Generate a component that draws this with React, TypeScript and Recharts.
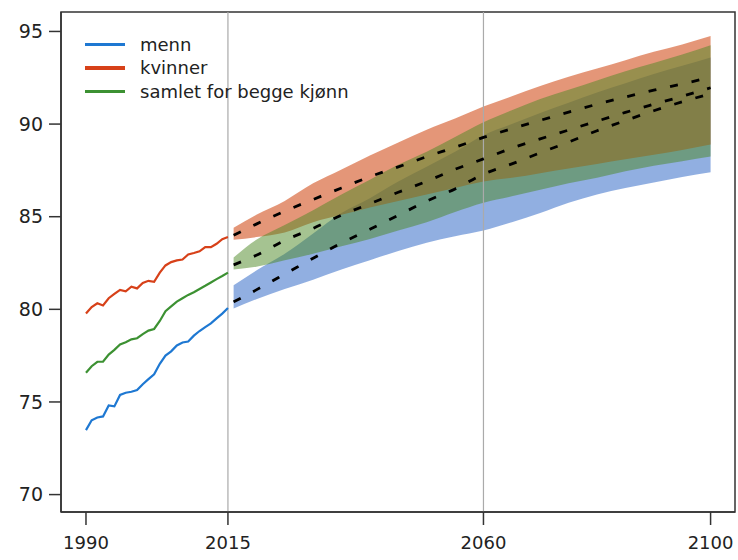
import { Area, ComposedChart, Legend, Line, ReferenceArea, ReferenceLine, XAxis, YAxis } from 'recharts';

// historical life expectancy, 1990-2015
const histYears = [1990, 1991, 1992, 1993, 1994, 1995, 1996, 1997, 1998, 1999, 2000, 2001, 2002, 2003, 2004, 2005, 2006, 2007, 2008, 2009, 2010, 2011, 2012, 2013, 2014, 2015];
const menn = [73.48, 74.01, 74.16, 74.22, 74.81, 74.76, 75.38, 75.5, 75.55, 75.64, 75.96, 76.23, 76.49, 77.06, 77.5, 77.73, 78.05, 78.21, 78.26, 78.58, 78.83, 79.04, 79.24, 79.51, 79.77, 80.07];
const kvinner = [79.77, 80.12, 80.33, 80.21, 80.6, 80.83, 81.05, 80.97, 81.22, 81.13, 81.42, 81.54, 81.49, 81.98, 82.37, 82.55, 82.64, 82.69, 82.96, 83.04, 83.13, 83.36, 83.36, 83.54, 83.79, 83.9];
const samlet = [76.58, 76.93, 77.17, 77.17, 77.56, 77.81, 78.1, 78.22, 78.38, 78.44, 78.66, 78.85, 78.94, 79.37, 79.9, 80.16, 80.42, 80.6, 80.78, 80.92, 81.1, 81.27, 81.45, 81.63, 81.8, 81.98];

// projections 2016-2100: median and interval
const projYears = [2016, 2020, 2025, 2030, 2035, 2040, 2045, 2050, 2055, 2060, 2065, 2070, 2075, 2080, 2085, 2090, 2095, 2100];
const kvinnerMed = [84.0, 84.6, 85.3, 85.93, 86.55, 87.16, 87.69, 88.24, 88.75, 89.28, 89.75, 90.2, 90.65, 91.07, 91.46, 91.83, 92.17, 92.52];
const kvinnerLo = [83.75, 83.9, 84.15, 84.7, 85.1, 85.5, 85.85, 86.2, 86.55, 86.9, 87.1, 87.35, 87.6, 87.85, 88.1, 88.35, 88.6, 88.9];
const kvinnerHi = [84.4, 85.1, 85.85, 86.8, 87.55, 88.3, 89.0, 89.7, 90.3, 90.95, 91.5, 92.05, 92.55, 93.0, 93.45, 93.9, 94.3, 94.75];
const samletMed = [82.4, 82.92, 83.72, 84.37, 85.08, 85.7, 86.32, 86.91, 87.56, 88.12, 88.7, 89.2, 89.68, 90.16, 90.63, 91.07, 91.5, 91.96];
const samletLo = [82.15, 82.3, 82.65, 83.0, 83.4, 83.8, 84.25, 84.7, 85.25, 85.75, 86.1, 86.45, 86.8, 87.1, 87.45, 87.75, 88.0, 88.25];
const samletHi = [82.8, 83.75, 84.55, 85.35, 86.2, 87.0, 87.8, 88.5, 89.3, 90.1, 90.75, 91.35, 91.85, 92.35, 92.85, 93.3, 93.75, 94.25];
const mennMed = [80.4, 81.05, 81.9, 82.76, 83.58, 84.32, 85.08, 85.84, 86.5, 87.3, 87.85, 88.45, 89.03, 89.64, 90.19, 90.72, 91.2, 91.64];
const mennLo = [80.05, 80.55, 81.1, 81.6, 82.15, 82.65, 83.15, 83.6, 83.95, 84.25, 84.7, 85.2, 85.75, 86.2, 86.55, 86.85, 87.15, 87.4];
const mennHi = [81.3, 82.1, 83.0, 84.1, 85.2, 86.0, 86.9, 87.7, 88.5, 89.4, 90.0, 90.6, 91.15, 91.7, 92.2, 92.7, 93.15, 93.6];

const xTicks = [1990, 2015, 2060, 2100];
const yTicks = [70, 75, 80, 85, 90, 95];
const legendLabels = ['menn', 'kvinner', 'samlet for begge kjønn'];

const BLUE = '#1e78d2';
const RED = '#d74119';
const GREEN = '#3c9132';
const FONT = 'DejaVu Sans';

const chartData = [
    ...histYears.map((year, i) => ({ year, menn: menn[i], kvinner: kvinner[i], samlet: samlet[i] })),
    ...projYears.map((year, i) => ({
        year,
        mennBand: [mennLo[i], mennHi[i]],
        kvinnerBand: [kvinnerLo[i], kvinnerHi[i]],
        samletBand: [samletLo[i], samletHi[i]],
        mennMed: mennMed[i],
        kvinnerMed: kvinnerMed[i],
        samletMed: samletMed[i],
    })),
];

const legendColors = [BLUE, RED, GREEN];

function LegendBox() {
    return (
        <div style={{ fontFamily: FONT, fontSize: 18, color: '#222' }}>
            {legendLabels.map((label, i) => (
                <div key={label} style={{ display: 'flex', alignItems: 'center', height: 23.5 }}>
                    <span style={{ display: 'inline-block', width: 40, height: 3.5, background: legendColors[i], marginRight: 15 }} />
                    <span style={{ whiteSpace: 'nowrap' }}>{label}</span>
                </div>
            ))}
        </div>
    );
}

export default function App() {
    const axisStyle = { stroke: '#333', strokeWidth: 1.5 };

    return (
        <>
            <style>{'body{margin:0}'}</style>
            <ComposedChart width={738} height={560} data={chartData} margin={{ top: 12, right: 3, left: 0, bottom: 0 }}>
                <XAxis
                    dataKey="year"
                    type="number"
                    domain={[1985.6, 2104.3]}
                    allowDataOverflow
                    ticks={xTicks}
                    tickSize={13}
                    tickMargin={11}
                    height={48}
                    axisLine={axisStyle}
                    tickLine={axisStyle}
                    tick={{ fontSize: 18, fill: '#222', fontFamily: FONT }}
                />
                <YAxis
                    type="number"
                    domain={[69.06, 96.05]}
                    allowDataOverflow
                    ticks={yTicks}
                    width={61}
                    tickSize={12}
                    tickMargin={6}
                    axisLine={axisStyle}
                    tickLine={axisStyle}
                    tick={{ fontSize: 19, fill: '#222', fontFamily: FONT }}
                />
                <ReferenceArea x1={1985.6} x2={2104.3} y1={69.06} y2={96.05} fill="none" stroke="#333" strokeWidth={1.5} />

                <Area type="monotone" dataKey="mennBand" fill="#487acd" fillOpacity={0.6} stroke="none" isAnimationActive={false} />
                <Area type="monotone" dataKey="kvinnerBand" fill="#d2501e" fillOpacity={0.6} stroke="none" isAnimationActive={false} />
                <Area type="monotone" dataKey="samletBand" fill="#4b8723" fillOpacity={0.5} stroke="none" isAnimationActive={false} />

                <ReferenceLine x={2015} stroke="#aaa" strokeWidth={1.2} />
                <ReferenceLine x={2060} stroke="#aaa" strokeWidth={1.2} />

                <Line type="linear" dataKey="menn" stroke={BLUE} strokeWidth={2.2} dot={false} isAnimationActive={false} />
                <Line type="linear" dataKey="kvinner" stroke={RED} strokeWidth={2.2} dot={false} isAnimationActive={false} />
                <Line type="linear" dataKey="samlet" stroke={GREEN} strokeWidth={2.2} dot={false} isAnimationActive={false} />

                <Line type="monotone" dataKey="kvinnerMed" stroke="#000" strokeWidth={2.8} strokeDasharray="8 14" dot={false} isAnimationActive={false} />
                <Line type="monotone" dataKey="samletMed" stroke="#000" strokeWidth={2.8} strokeDasharray="8 14" dot={false} isAnimationActive={false} />
                <Line type="monotone" dataKey="mennMed" stroke="#000" strokeWidth={2.8} strokeDasharray="8 14" dot={false} isAnimationActive={false} />

                <Legend
                    layout="vertical"
                    align="center"
                    verticalAlign="middle"
                    wrapperStyle={{ top: 32.5, left: 85, width: 'auto' }}
                    content={<LegendBox />}
                />
            </ComposedChart>
        </>
    );
}
